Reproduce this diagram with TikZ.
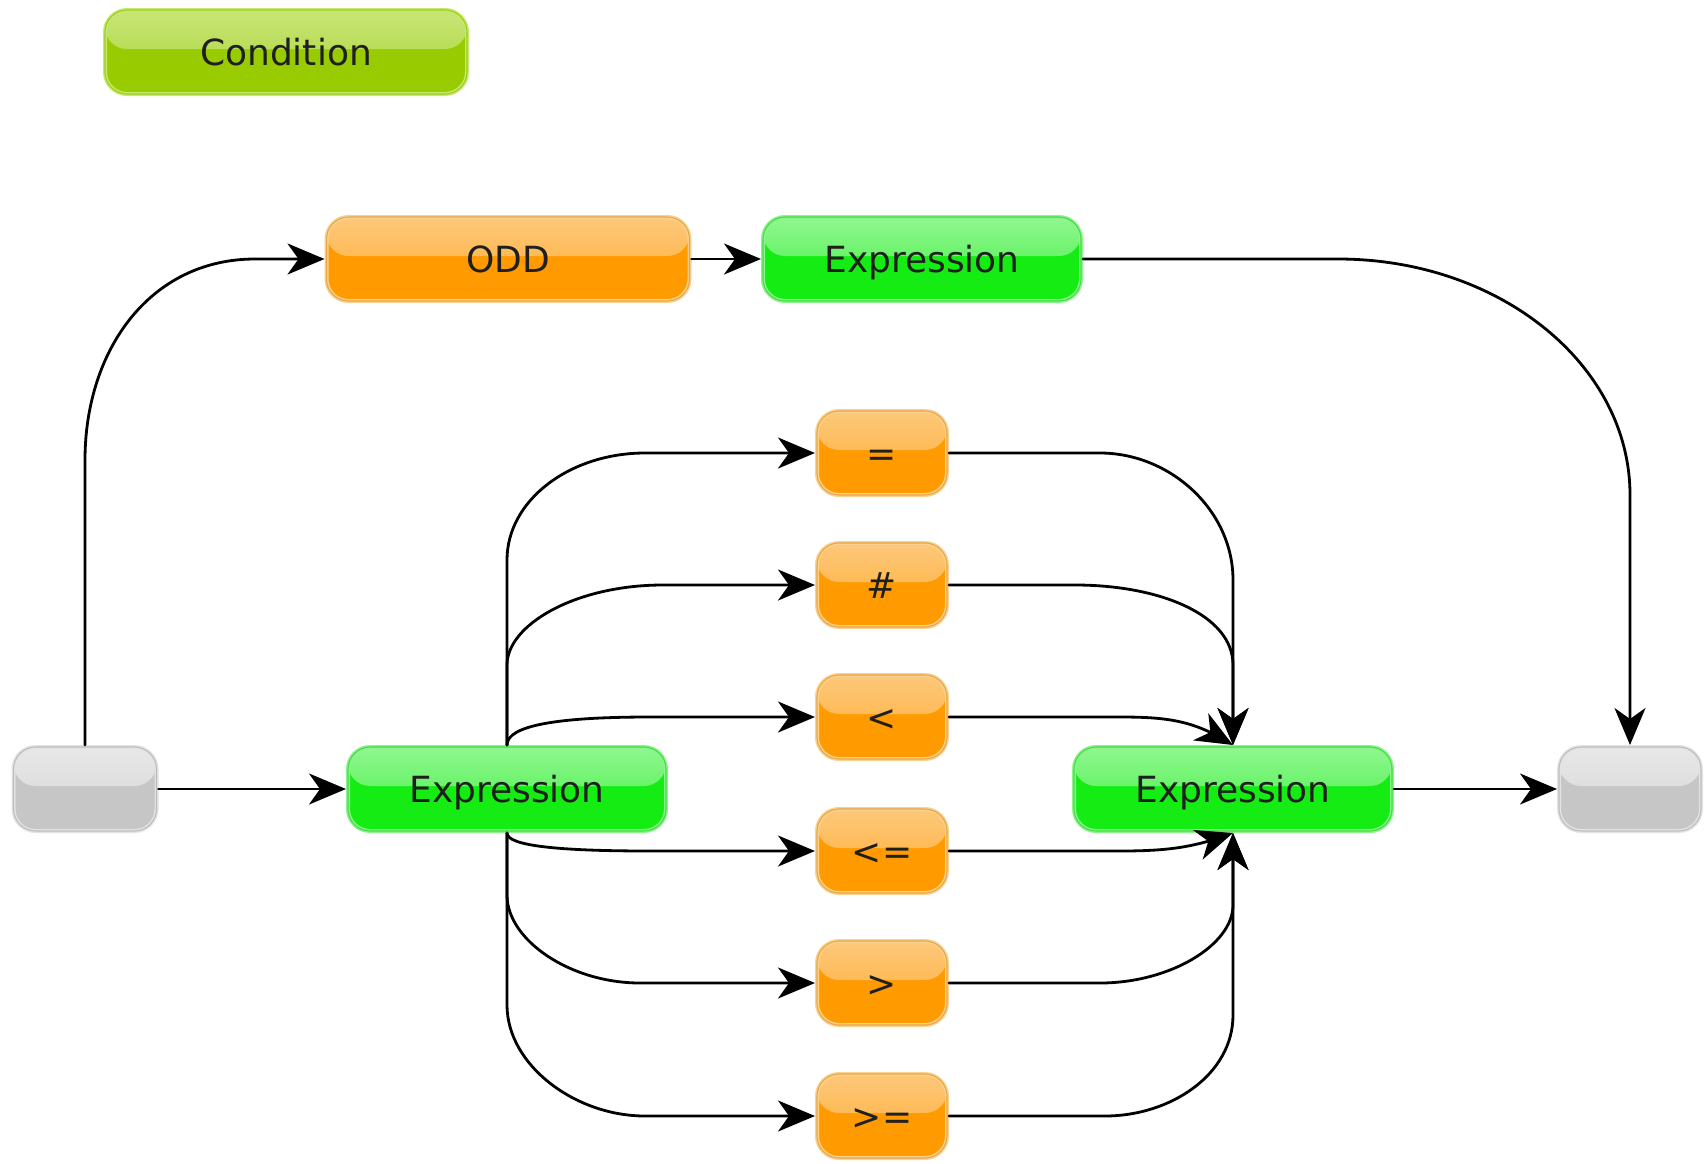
\documentclass[tikz,border=0pt]{standalone}
\usepackage{fontspec}
\setmainfont{DejaVu Sans}
\usetikzlibrary{arrows.meta,bending,calc}
\definecolor{orBase}{HTML}{FF9A00}
\definecolor{orTop}{HTML}{FDC87A}
\definecolor{orMid}{HTML}{FFAC30}
\definecolor{orRim}{HTML}{F9D291}
\definecolor{orLine}{HTML}{E9A645}
\definecolor{liBase}{HTML}{99CC00}
\definecolor{liTop}{HTML}{C8E578}
\definecolor{liMid}{HTML}{A9D431}
\definecolor{liRim}{HTML}{C6E86E}
\definecolor{liLine}{HTML}{9CCF1A}
\definecolor{grBase}{HTML}{14EC14}
\definecolor{grTop}{HTML}{90F790}
\definecolor{grMid}{HTML}{40F040}
\definecolor{grRim}{HTML}{8EF28E}
\definecolor{grLine}{HTML}{44DD44}
\definecolor{gyBase}{HTML}{C6C6C6}
\definecolor{gyTop}{HTML}{E8E8E8}
\definecolor{gyMid}{HTML}{D4D4D4}
\definecolor{gyRim}{HTML}{E3E3E3}
\definecolor{gyLine}{HTML}{BDBDBD}
\tikzset{
  basebox/.style={rectangle, rounded corners=22pt, inner sep=0pt,
    minimum height=84pt, text height=26pt, text depth=0pt,
    font=\fontsize{36}{43}\selectfont, text=black!88},
  glossbox/.style n args={5}{basebox, fill=#1,
    path picture={\fill[top color=#2, bottom color=#3]
      (path picture bounding box.north west) rectangle ([yshift=3pt]path picture bounding box.east);},
    draw=#4, line width=4pt,
    postaction={draw=#5, line width=1.1pt}},
  orbox/.style={glossbox={orBase}{orTop}{orMid}{orRim}{orLine}},
  libox/.style={glossbox={liBase}{liTop}{liMid}{liRim}{liLine}},
  grbox/.style={glossbox={grBase}{grTop}{grMid}{grRim}{grLine}},
  gybox/.style={glossbox={gyBase}{gyTop}{gyMid}{gyRim}{gyLine}},
  arr/.style={draw=black, line width=2.8pt, line cap=round,
    -{Stealth[length=37pt,width=31pt,inset=11pt]}},
}
\begin{document}
\begin{tikzpicture}[x=1pt,y=-1pt]
\useasboundingbox[fill=white] (0,0) rectangle (1706,1163);

\node[libox, minimum width=362pt] (cond) at (286,52) {Condition};
\node[orbox, minimum width=363pt] (odd) at (508,259) {ODD};
\node[grbox, minimum width=318pt] (ex1) at (922,259) {Expression};
\node[gybox, minimum width=143pt] (start) at (85,789) {};
\node[grbox, minimum width=318pt] (ex2) at (507,789) {Expression};
\node[grbox, minimum width=318pt] (ex3) at (1233,789) {Expression};
\node[gybox, minimum width=142pt] (fin) at (1630,789) {};

\node[orbox, minimum width=130pt] (eq) at (882,453) {=};
\node[orbox, minimum width=130pt] (ne) at (882,585) {\#};
\node[orbox, minimum width=130pt] (lt) at (882,717) {<};
\node[orbox, minimum width=130pt] (le) at (882,851) {<=};
\node[orbox, minimum width=130pt] (gt) at (882,983) {>};
\node[orbox, minimum width=130pt] (ge) at (882,1116) {>=};

% top branch
\draw[arr] (start.north) -- (85,460) .. controls (85,350) and (150,259) .. (255,259) -- (odd.west);
\draw[arr] (odd.east) -- (ex1.west);
\draw[arr] (ex1.east) -- (1338,259) .. controls (1500,259) and (1630,365) .. (1630,495) -- (fin.north);

% main row
\draw[arr] (start.east) -- (ex2.west);
\draw[arr] (ex3.east) -- (fin.west);

% fan out
\draw[arr] (ex2.north) -- (507,560) .. controls (507,500) and (570,453) .. (645,453) -- (eq.west);
\draw[arr] (ex2.north) -- (507,665) .. controls (507,625) and (575,585) .. (663,585) -- (ne.west);
\draw[arr] (ex2.north) .. controls (507,725) and (560,717) .. (650,717) -- (lt.west);
\draw[arr] (ex2.south) .. controls (507,846) and (560,851) .. (650,851) -- (le.west);
\draw[arr] (ex2.south) -- (507,895) .. controls (507,940) and (570,983) .. (640,983) -- (gt.west);
\draw[arr] (ex2.south) -- (507,1005) .. controls (507,1065) and (575,1116) .. (645,1116) -- (ge.west);

% fan in
\draw[arr] (eq.east) -- (1100,453) .. controls (1170,453) and (1233,510) .. (1233,580) -- (ex3.north);
\draw[arr] (ne.east) -- (1075,585) .. controls (1160,585) and (1233,615) .. (1233,665) -- (ex3.north);
\draw[arr] (lt.east) -- (1120,717) .. controls (1170,717) and (1195,721) .. (ex3.north);
\draw[arr] (le.east) -- (1120,851) .. controls (1170,851) and (1195,847) .. (ex3.south);
\draw[arr] (gt.east) -- (1100,983) .. controls (1170,983) and (1233,945) .. (1233,905) -- (ex3.south);
\draw[arr] (ge.east) -- (1105,1116) .. controls (1170,1116) and (1233,1075) .. (1233,1015) -- (ex3.south);
\end{tikzpicture}
\end{document}
